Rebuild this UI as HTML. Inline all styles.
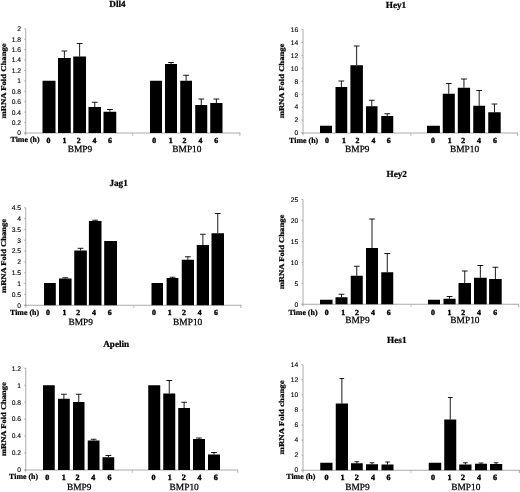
<!DOCTYPE html>
<html><head><meta charset="utf-8"><title>Figure</title>
<style>
html,body{margin:0;padding:0;background:#fff;}
body{width:520px;height:492px;overflow:hidden;font-family:"Liberation Serif",serif;}
svg{display:block;will-change:transform;filter:blur(0.35px);}
text{text-rendering:geometricPrecision;}
.t{font-family:"Liberation Serif",serif;font-weight:bold;fill:#000;stroke:#000;stroke-width:0.24px;}
.g{font-family:"Liberation Serif",serif;font-weight:normal;fill:#000;stroke:#000;stroke-width:0.25px;}
.d{stroke-width:0.4px;}
.k{font-family:"Liberation Sans",sans-serif;fill:#000;stroke:#000;stroke-width:0.12px;}
</style></head><body>
<svg width="520" height="492" viewBox="0 0 520 492">
<rect x="0" y="0" width="520" height="492" fill="#ffffff"/>
<g>
<text class="t" x="117.5" y="7.25" font-size="9.2" text-anchor="middle">Dll4</text>
<line x1="25.75" y1="28.85" x2="25.75" y2="135.4" stroke="#969696" stroke-width="0.8"/>
<line x1="24.25" y1="133" x2="239.9" y2="133" stroke="#969696" stroke-width="0.8"/>
<line x1="132.8" y1="133" x2="132.8" y2="136" stroke="#b4b4b4" stroke-width="0.8"/>
<line x1="239.9" y1="132.6" x2="239.9" y2="135.8" stroke="#969696" stroke-width="0.8"/>
<line x1="24.25" y1="133" x2="25.75" y2="133" stroke="#969696" stroke-width="0.8"/>
<text class="k" x="20.95" y="135.35" font-size="6.7" text-anchor="end">0</text>
<line x1="24.25" y1="122.58" x2="25.75" y2="122.58" stroke="#969696" stroke-width="0.8"/>
<text class="k" x="20.95" y="124.93" font-size="6.7" text-anchor="end">0.2</text>
<line x1="24.25" y1="112.17" x2="25.75" y2="112.17" stroke="#969696" stroke-width="0.8"/>
<text class="k" x="20.95" y="114.52" font-size="6.7" text-anchor="end">0.4</text>
<line x1="24.25" y1="101.75" x2="25.75" y2="101.75" stroke="#969696" stroke-width="0.8"/>
<text class="k" x="20.95" y="104.1" font-size="6.7" text-anchor="end">0.6</text>
<line x1="24.25" y1="91.34" x2="25.75" y2="91.34" stroke="#969696" stroke-width="0.8"/>
<text class="k" x="20.95" y="93.69" font-size="6.7" text-anchor="end">0.8</text>
<line x1="24.25" y1="80.92" x2="25.75" y2="80.92" stroke="#969696" stroke-width="0.8"/>
<text class="k" x="20.95" y="83.27" font-size="6.7" text-anchor="end">1</text>
<line x1="24.25" y1="70.51" x2="25.75" y2="70.51" stroke="#969696" stroke-width="0.8"/>
<text class="k" x="20.95" y="72.86" font-size="6.7" text-anchor="end">1.2</text>
<line x1="24.25" y1="60.09" x2="25.75" y2="60.09" stroke="#969696" stroke-width="0.8"/>
<text class="k" x="20.95" y="62.45" font-size="6.7" text-anchor="end">1.4</text>
<line x1="24.25" y1="49.68" x2="25.75" y2="49.68" stroke="#969696" stroke-width="0.8"/>
<text class="k" x="20.95" y="52.03" font-size="6.7" text-anchor="end">1.6</text>
<line x1="24.25" y1="39.27" x2="25.75" y2="39.27" stroke="#969696" stroke-width="0.8"/>
<text class="k" x="20.95" y="41.62" font-size="6.7" text-anchor="end">1.8</text>
<line x1="24.25" y1="28.85" x2="25.75" y2="28.85" stroke="#969696" stroke-width="0.8"/>
<text class="k" x="20.95" y="31.2" font-size="6.7" text-anchor="end">2</text>
<text class="t" font-size="7.3" text-anchor="middle" transform="translate(6.4 80.9) rotate(-90) scale(1.19 1)">mRNA Fold Change</text>
<rect x="42.5" y="80.75" width="13" height="52.25" fill="#000"/>
<rect x="58" y="58" width="12.75" height="75" fill="#000"/>
<line x1="64.38" y1="51" x2="64.38" y2="58" stroke="#000" stroke-width="0.9"/>
<line x1="61.48" y1="51" x2="67.28" y2="51" stroke="#000" stroke-width="0.9"/>
<rect x="73.25" y="56.5" width="12.75" height="76.5" fill="#000"/>
<line x1="79.62" y1="43.5" x2="79.62" y2="56.5" stroke="#000" stroke-width="0.9"/>
<line x1="76.72" y1="43.5" x2="82.53" y2="43.5" stroke="#000" stroke-width="0.9"/>
<rect x="88.5" y="107" width="12.5" height="26" fill="#000"/>
<line x1="94.75" y1="102.25" x2="94.75" y2="107" stroke="#000" stroke-width="0.9"/>
<line x1="91.85" y1="102.25" x2="97.65" y2="102.25" stroke="#000" stroke-width="0.9"/>
<rect x="103.5" y="111.75" width="12.75" height="21.25" fill="#000"/>
<line x1="109.88" y1="109.5" x2="109.88" y2="111.75" stroke="#000" stroke-width="0.9"/>
<line x1="106.97" y1="109.5" x2="112.78" y2="109.5" stroke="#000" stroke-width="0.9"/>
<rect x="150" y="80.75" width="12" height="52.25" fill="#000"/>
<rect x="165" y="64" width="12" height="69" fill="#000"/>
<line x1="171" y1="62.5" x2="171" y2="64" stroke="#000" stroke-width="0.9"/>
<line x1="168.1" y1="62.5" x2="173.9" y2="62.5" stroke="#000" stroke-width="0.9"/>
<rect x="180.25" y="80.75" width="11.75" height="52.25" fill="#000"/>
<line x1="186.12" y1="75.25" x2="186.12" y2="80.75" stroke="#000" stroke-width="0.9"/>
<line x1="183.22" y1="75.25" x2="189.03" y2="75.25" stroke="#000" stroke-width="0.9"/>
<rect x="195.25" y="105" width="12" height="28" fill="#000"/>
<line x1="201.25" y1="99" x2="201.25" y2="105" stroke="#000" stroke-width="0.9"/>
<line x1="198.35" y1="99" x2="204.15" y2="99" stroke="#000" stroke-width="0.9"/>
<rect x="210.25" y="103" width="12.25" height="30" fill="#000"/>
<line x1="216.38" y1="99" x2="216.38" y2="103" stroke="#000" stroke-width="0.9"/>
<line x1="213.47" y1="99" x2="219.28" y2="99" stroke="#000" stroke-width="0.9"/>
<text class="t" font-size="7.8" transform="translate(10.5 141.6) scale(1.015 1)">Time (h)</text>
<text class="t d" font-size="7.8" text-anchor="middle" transform="translate(48.5 143.3) scale(1.0 1)">0</text>
<text class="t d" font-size="7.8" text-anchor="middle" transform="translate(64.5 143.3) scale(1.0 1)">1</text>
<text class="t d" font-size="7.8" text-anchor="middle" transform="translate(78.75 143.3) scale(1.0 1)">2</text>
<text class="t d" font-size="7.8" text-anchor="middle" transform="translate(94.5 143.3) scale(1.0 1)">4</text>
<text class="t d" font-size="7.8" text-anchor="middle" transform="translate(110 143.3) scale(1.0 1)">6</text>
<text class="t d" font-size="7.8" text-anchor="middle" transform="translate(154.25 143.3) scale(1.0 1)">0</text>
<text class="t d" font-size="7.8" text-anchor="middle" transform="translate(170.7 143.3) scale(1.0 1)">1</text>
<text class="t d" font-size="7.8" text-anchor="middle" transform="translate(184.5 143.3) scale(1.0 1)">2</text>
<text class="t d" font-size="7.8" text-anchor="middle" transform="translate(200.5 143.3) scale(1.0 1)">4</text>
<text class="t d" font-size="7.8" text-anchor="middle" transform="translate(216.25 143.3) scale(1.0 1)">6</text>
<text class="g" x="80" y="152.1" font-size="9.4" text-anchor="middle">BMP9</text>
<text class="g" x="186.9" y="152.1" font-size="9.4" text-anchor="middle">BMP10</text>
</g>
<g>
<text class="t" x="396" y="7.7" font-size="9.2" text-anchor="middle">Hey1</text>
<line x1="303" y1="29.5" x2="303" y2="135.4" stroke="#969696" stroke-width="0.8"/>
<line x1="301.5" y1="133" x2="517.6" y2="133" stroke="#969696" stroke-width="0.8"/>
<line x1="410.8" y1="133" x2="410.8" y2="136" stroke="#b4b4b4" stroke-width="0.8"/>
<line x1="517.6" y1="132.6" x2="517.6" y2="135.8" stroke="#969696" stroke-width="0.8"/>
<line x1="301.5" y1="133" x2="303" y2="133" stroke="#969696" stroke-width="0.8"/>
<text class="k" x="298.2" y="135.35" font-size="6.7" text-anchor="end">0</text>
<line x1="301.5" y1="120.06" x2="303" y2="120.06" stroke="#969696" stroke-width="0.8"/>
<text class="k" x="298.2" y="122.41" font-size="6.7" text-anchor="end">2</text>
<line x1="301.5" y1="107.12" x2="303" y2="107.12" stroke="#969696" stroke-width="0.8"/>
<text class="k" x="298.2" y="109.47" font-size="6.7" text-anchor="end">4</text>
<line x1="301.5" y1="94.19" x2="303" y2="94.19" stroke="#969696" stroke-width="0.8"/>
<text class="k" x="298.2" y="96.54" font-size="6.7" text-anchor="end">6</text>
<line x1="301.5" y1="81.25" x2="303" y2="81.25" stroke="#969696" stroke-width="0.8"/>
<text class="k" x="298.2" y="83.6" font-size="6.7" text-anchor="end">8</text>
<line x1="301.5" y1="68.31" x2="303" y2="68.31" stroke="#969696" stroke-width="0.8"/>
<text class="k" x="298.2" y="70.66" font-size="6.7" text-anchor="end">10</text>
<line x1="301.5" y1="55.38" x2="303" y2="55.38" stroke="#969696" stroke-width="0.8"/>
<text class="k" x="298.2" y="57.73" font-size="6.7" text-anchor="end">12</text>
<line x1="301.5" y1="42.44" x2="303" y2="42.44" stroke="#969696" stroke-width="0.8"/>
<text class="k" x="298.2" y="44.79" font-size="6.7" text-anchor="end">14</text>
<line x1="301.5" y1="29.5" x2="303" y2="29.5" stroke="#969696" stroke-width="0.8"/>
<text class="k" x="298.2" y="31.85" font-size="6.7" text-anchor="end">16</text>
<text class="t" font-size="7.3" text-anchor="middle" transform="translate(284.4 80.95) rotate(-90) scale(1.18 1)">mRNA Fold Change</text>
<rect x="320" y="125.75" width="12" height="7.25" fill="#000"/>
<rect x="335.5" y="87" width="11.75" height="46" fill="#000"/>
<line x1="341.38" y1="81" x2="341.38" y2="87" stroke="#000" stroke-width="0.9"/>
<line x1="338.48" y1="81" x2="344.27" y2="81" stroke="#000" stroke-width="0.9"/>
<rect x="350.4" y="65.25" width="12.5" height="67.75" fill="#000"/>
<line x1="356.65" y1="46" x2="356.65" y2="65.25" stroke="#000" stroke-width="0.9"/>
<line x1="353.75" y1="46" x2="359.55" y2="46" stroke="#000" stroke-width="0.9"/>
<rect x="366" y="106.25" width="11.5" height="26.75" fill="#000"/>
<line x1="371.75" y1="100.25" x2="371.75" y2="106.25" stroke="#000" stroke-width="0.9"/>
<line x1="368.85" y1="100.25" x2="374.65" y2="100.25" stroke="#000" stroke-width="0.9"/>
<rect x="381.25" y="116" width="12" height="17" fill="#000"/>
<line x1="387.25" y1="113.75" x2="387.25" y2="116" stroke="#000" stroke-width="0.9"/>
<line x1="384.35" y1="113.75" x2="390.15" y2="113.75" stroke="#000" stroke-width="0.9"/>
<rect x="427" y="125.75" width="12.9" height="7.25" fill="#000"/>
<rect x="442.75" y="93.75" width="12.05" height="39.25" fill="#000"/>
<line x1="448.77" y1="83.5" x2="448.77" y2="93.75" stroke="#000" stroke-width="0.9"/>
<line x1="445.88" y1="83.5" x2="451.67" y2="83.5" stroke="#000" stroke-width="0.9"/>
<rect x="457.8" y="87.75" width="12.3" height="45.25" fill="#000"/>
<line x1="463.95" y1="79" x2="463.95" y2="87.75" stroke="#000" stroke-width="0.9"/>
<line x1="461.05" y1="79" x2="466.85" y2="79" stroke="#000" stroke-width="0.9"/>
<rect x="473.25" y="105.75" width="11.85" height="27.25" fill="#000"/>
<line x1="479.18" y1="90.5" x2="479.18" y2="105.75" stroke="#000" stroke-width="0.9"/>
<line x1="476.28" y1="90.5" x2="482.07" y2="90.5" stroke="#000" stroke-width="0.9"/>
<rect x="488.25" y="112.25" width="12.45" height="20.75" fill="#000"/>
<line x1="494.48" y1="104" x2="494.48" y2="112.25" stroke="#000" stroke-width="0.9"/>
<line x1="491.58" y1="104" x2="497.38" y2="104" stroke="#000" stroke-width="0.9"/>
<text class="t" font-size="7.8" transform="translate(289.1 142.9) scale(1.015 1)">Time (h)</text>
<text class="t d" font-size="7.8" text-anchor="middle" transform="translate(327 143.1) scale(1.0 1)">0</text>
<text class="t d" font-size="7.8" text-anchor="middle" transform="translate(344 143.1) scale(1.0 1)">1</text>
<text class="t d" font-size="7.8" text-anchor="middle" transform="translate(357.4 143.1) scale(1.0 1)">2</text>
<text class="t d" font-size="7.8" text-anchor="middle" transform="translate(373.5 143.1) scale(1.0 1)">4</text>
<text class="t d" font-size="7.8" text-anchor="middle" transform="translate(388.7 143.1) scale(1.0 1)">6</text>
<text class="t d" font-size="7.8" text-anchor="middle" transform="translate(433 143.1) scale(1.0 1)">0</text>
<text class="t d" font-size="7.8" text-anchor="middle" transform="translate(449.6 143.1) scale(1.0 1)">1</text>
<text class="t d" font-size="7.8" text-anchor="middle" transform="translate(463.2 143.1) scale(1.0 1)">2</text>
<text class="t d" font-size="7.8" text-anchor="middle" transform="translate(478.9 143.1) scale(1.0 1)">4</text>
<text class="t d" font-size="7.8" text-anchor="middle" transform="translate(494.9 143.1) scale(1.0 1)">6</text>
<text class="g" x="357.3" y="152.05" font-size="9.4" text-anchor="middle">BMP9</text>
<text class="g" x="464.5" y="152.05" font-size="9.4" text-anchor="middle">BMP10</text>
</g>
<g>
<text class="t" x="118.6" y="186.2" font-size="9.2" text-anchor="middle">Jag1</text>
<line x1="25.75" y1="207.75" x2="25.75" y2="307.65" stroke="#969696" stroke-width="0.8"/>
<line x1="24.25" y1="305.25" x2="241" y2="305.25" stroke="#969696" stroke-width="0.8"/>
<line x1="133.8" y1="305.25" x2="133.8" y2="308.25" stroke="#b4b4b4" stroke-width="0.8"/>
<line x1="241" y1="304.85" x2="241" y2="308.05" stroke="#969696" stroke-width="0.8"/>
<line x1="24.25" y1="305.25" x2="25.75" y2="305.25" stroke="#969696" stroke-width="0.8"/>
<text class="k" x="20.95" y="307.6" font-size="6.7" text-anchor="end">0</text>
<line x1="24.25" y1="294.42" x2="25.75" y2="294.42" stroke="#969696" stroke-width="0.8"/>
<text class="k" x="20.95" y="296.77" font-size="6.7" text-anchor="end">0.5</text>
<line x1="24.25" y1="283.58" x2="25.75" y2="283.58" stroke="#969696" stroke-width="0.8"/>
<text class="k" x="20.95" y="285.93" font-size="6.7" text-anchor="end">1</text>
<line x1="24.25" y1="272.75" x2="25.75" y2="272.75" stroke="#969696" stroke-width="0.8"/>
<text class="k" x="20.95" y="275.1" font-size="6.7" text-anchor="end">1.5</text>
<line x1="24.25" y1="261.92" x2="25.75" y2="261.92" stroke="#969696" stroke-width="0.8"/>
<text class="k" x="20.95" y="264.27" font-size="6.7" text-anchor="end">2</text>
<line x1="24.25" y1="251.08" x2="25.75" y2="251.08" stroke="#969696" stroke-width="0.8"/>
<text class="k" x="20.95" y="253.43" font-size="6.7" text-anchor="end">2.5</text>
<line x1="24.25" y1="240.25" x2="25.75" y2="240.25" stroke="#969696" stroke-width="0.8"/>
<text class="k" x="20.95" y="242.6" font-size="6.7" text-anchor="end">3</text>
<line x1="24.25" y1="229.42" x2="25.75" y2="229.42" stroke="#969696" stroke-width="0.8"/>
<text class="k" x="20.95" y="231.77" font-size="6.7" text-anchor="end">3.5</text>
<line x1="24.25" y1="218.58" x2="25.75" y2="218.58" stroke="#969696" stroke-width="0.8"/>
<text class="k" x="20.95" y="220.93" font-size="6.7" text-anchor="end">4</text>
<line x1="24.25" y1="207.75" x2="25.75" y2="207.75" stroke="#969696" stroke-width="0.8"/>
<text class="k" x="20.95" y="210.1" font-size="6.7" text-anchor="end">4.5</text>
<text class="t" font-size="7.3" text-anchor="middle" transform="translate(6.4 255.95) rotate(-90) scale(1.17 1)">mRNA Fold Change</text>
<rect x="44.05" y="283" width="11.75" height="22.25" fill="#000"/>
<rect x="59" y="278.5" width="12.55" height="26.75" fill="#000"/>
<line x1="65.28" y1="277.75" x2="65.28" y2="278.5" stroke="#000" stroke-width="0.9"/>
<line x1="62.38" y1="277.75" x2="68.18" y2="277.75" stroke="#000" stroke-width="0.9"/>
<rect x="74.25" y="250.5" width="12.6" height="54.75" fill="#000"/>
<line x1="80.55" y1="248.3" x2="80.55" y2="250.5" stroke="#000" stroke-width="0.9"/>
<line x1="77.65" y1="248.3" x2="83.45" y2="248.3" stroke="#000" stroke-width="0.9"/>
<rect x="88.9" y="221" width="12.6" height="84.25" fill="#000"/>
<line x1="95.2" y1="220.2" x2="95.2" y2="221" stroke="#000" stroke-width="0.9"/>
<line x1="92.3" y1="220.2" x2="98.1" y2="220.2" stroke="#000" stroke-width="0.9"/>
<rect x="104.2" y="241" width="12.8" height="64.25" fill="#000"/>
<rect x="151.5" y="283" width="11.5" height="22.25" fill="#000"/>
<rect x="166.6" y="278" width="11.8" height="27.25" fill="#000"/>
<line x1="172.5" y1="277.25" x2="172.5" y2="278" stroke="#000" stroke-width="0.9"/>
<line x1="169.6" y1="277.25" x2="175.4" y2="277.25" stroke="#000" stroke-width="0.9"/>
<rect x="181.75" y="259.75" width="12.25" height="45.5" fill="#000"/>
<line x1="187.88" y1="256.75" x2="187.88" y2="259.75" stroke="#000" stroke-width="0.9"/>
<line x1="184.97" y1="256.75" x2="190.78" y2="256.75" stroke="#000" stroke-width="0.9"/>
<rect x="196.75" y="245" width="12.25" height="60.25" fill="#000"/>
<line x1="202.88" y1="234.25" x2="202.88" y2="245" stroke="#000" stroke-width="0.9"/>
<line x1="199.97" y1="234.25" x2="205.78" y2="234.25" stroke="#000" stroke-width="0.9"/>
<rect x="211.5" y="233.25" width="12.5" height="72" fill="#000"/>
<line x1="217.75" y1="213.5" x2="217.75" y2="233.25" stroke="#000" stroke-width="0.9"/>
<line x1="214.85" y1="213.5" x2="220.65" y2="213.5" stroke="#000" stroke-width="0.9"/>
<text class="t" font-size="7.8" transform="translate(10 315) scale(1.015 1)">Time (h)</text>
<text class="t d" font-size="7.8" text-anchor="middle" transform="translate(47.9 315.25) scale(1.0 1)">0</text>
<text class="t d" font-size="7.8" text-anchor="middle" transform="translate(64.4 315.25) scale(1.0 1)">1</text>
<text class="t d" font-size="7.8" text-anchor="middle" transform="translate(78.1 315.25) scale(1.0 1)">2</text>
<text class="t d" font-size="7.8" text-anchor="middle" transform="translate(93.85 315.25) scale(1.0 1)">4</text>
<text class="t d" font-size="7.8" text-anchor="middle" transform="translate(109.75 315.25) scale(1.0 1)">6</text>
<text class="t d" font-size="7.8" text-anchor="middle" transform="translate(153.85 315.25) scale(1.0 1)">0</text>
<text class="t d" font-size="7.8" text-anchor="middle" transform="translate(169.8 315.25) scale(1.0 1)">1</text>
<text class="t d" font-size="7.8" text-anchor="middle" transform="translate(184 315.25) scale(1.0 1)">2</text>
<text class="t d" font-size="7.8" text-anchor="middle" transform="translate(199.6 315.25) scale(1.0 1)">4</text>
<text class="t d" font-size="7.8" text-anchor="middle" transform="translate(216 315.25) scale(1.0 1)">6</text>
<text class="g" x="80.7" y="324.5" font-size="9.4" text-anchor="middle">BMP9</text>
<text class="g" x="187.7" y="324.5" font-size="9.4" text-anchor="middle">BMP10</text>
</g>
<g>
<text class="t" x="396.7" y="177.15" font-size="9.2" text-anchor="middle">Hey2</text>
<line x1="303" y1="199.5" x2="303" y2="306.65" stroke="#969696" stroke-width="0.8"/>
<line x1="301.5" y1="304.25" x2="518.7" y2="304.25" stroke="#969696" stroke-width="0.8"/>
<line x1="411.05" y1="304.25" x2="411.05" y2="307.25" stroke="#b4b4b4" stroke-width="0.8"/>
<line x1="518.7" y1="303.85" x2="518.7" y2="307.05" stroke="#969696" stroke-width="0.8"/>
<line x1="301.5" y1="304.25" x2="303" y2="304.25" stroke="#969696" stroke-width="0.8"/>
<text class="k" x="298.2" y="306.6" font-size="6.7" text-anchor="end">0</text>
<line x1="301.5" y1="283.3" x2="303" y2="283.3" stroke="#969696" stroke-width="0.8"/>
<text class="k" x="298.2" y="285.65" font-size="6.7" text-anchor="end">5</text>
<line x1="301.5" y1="262.35" x2="303" y2="262.35" stroke="#969696" stroke-width="0.8"/>
<text class="k" x="298.2" y="264.7" font-size="6.7" text-anchor="end">10</text>
<line x1="301.5" y1="241.4" x2="303" y2="241.4" stroke="#969696" stroke-width="0.8"/>
<text class="k" x="298.2" y="243.75" font-size="6.7" text-anchor="end">15</text>
<line x1="301.5" y1="220.45" x2="303" y2="220.45" stroke="#969696" stroke-width="0.8"/>
<text class="k" x="298.2" y="222.8" font-size="6.7" text-anchor="end">20</text>
<line x1="301.5" y1="199.5" x2="303" y2="199.5" stroke="#969696" stroke-width="0.8"/>
<text class="k" x="298.2" y="201.85" font-size="6.7" text-anchor="end">25</text>
<text class="t" font-size="7.3" text-anchor="middle" transform="translate(284.1 252) rotate(-90) scale(1.18 1)">mRNA Fold Change</text>
<rect x="320" y="299.75" width="12.5" height="4.5" fill="#000"/>
<rect x="335.5" y="297.25" width="12" height="7" fill="#000"/>
<line x1="341.5" y1="294.25" x2="341.5" y2="297.25" stroke="#000" stroke-width="0.9"/>
<line x1="338.6" y1="294.25" x2="344.4" y2="294.25" stroke="#000" stroke-width="0.9"/>
<rect x="350.75" y="275.75" width="12" height="28.5" fill="#000"/>
<line x1="356.75" y1="266.25" x2="356.75" y2="275.75" stroke="#000" stroke-width="0.9"/>
<line x1="353.85" y1="266.25" x2="359.65" y2="266.25" stroke="#000" stroke-width="0.9"/>
<rect x="366" y="248" width="12" height="56.25" fill="#000"/>
<line x1="372" y1="219" x2="372" y2="248" stroke="#000" stroke-width="0.9"/>
<line x1="369.1" y1="219" x2="374.9" y2="219" stroke="#000" stroke-width="0.9"/>
<rect x="381.25" y="272.25" width="12" height="32" fill="#000"/>
<line x1="387.25" y1="253.5" x2="387.25" y2="272.25" stroke="#000" stroke-width="0.9"/>
<line x1="384.35" y1="253.5" x2="390.15" y2="253.5" stroke="#000" stroke-width="0.9"/>
<rect x="428" y="299.75" width="12" height="4.5" fill="#000"/>
<rect x="443.5" y="298.75" width="12.1" height="5.5" fill="#000"/>
<line x1="449.55" y1="296.5" x2="449.55" y2="298.75" stroke="#000" stroke-width="0.9"/>
<line x1="446.65" y1="296.5" x2="452.45" y2="296.5" stroke="#000" stroke-width="0.9"/>
<rect x="458.5" y="283" width="12.5" height="21.25" fill="#000"/>
<line x1="464.75" y1="271" x2="464.75" y2="283" stroke="#000" stroke-width="0.9"/>
<line x1="461.85" y1="271" x2="467.65" y2="271" stroke="#000" stroke-width="0.9"/>
<rect x="474" y="277.75" width="12.7" height="26.5" fill="#000"/>
<line x1="480.35" y1="265.5" x2="480.35" y2="277.75" stroke="#000" stroke-width="0.9"/>
<line x1="477.45" y1="265.5" x2="483.25" y2="265.5" stroke="#000" stroke-width="0.9"/>
<rect x="489.1" y="279" width="12.6" height="25.25" fill="#000"/>
<line x1="495.4" y1="267.25" x2="495.4" y2="279" stroke="#000" stroke-width="0.9"/>
<line x1="492.5" y1="267.25" x2="498.3" y2="267.25" stroke="#000" stroke-width="0.9"/>
<text class="t" font-size="7.8" transform="translate(288.45 315) scale(1.015 1)">Time (h)</text>
<text class="t d" font-size="7.8" text-anchor="middle" transform="translate(326.75 315.25) scale(1.0 1)">0</text>
<text class="t d" font-size="7.8" text-anchor="middle" transform="translate(343.1 315.25) scale(1.0 1)">1</text>
<text class="t d" font-size="7.8" text-anchor="middle" transform="translate(357 315.25) scale(1.0 1)">2</text>
<text class="t d" font-size="7.8" text-anchor="middle" transform="translate(373 315.25) scale(1.0 1)">4</text>
<text class="t d" font-size="7.8" text-anchor="middle" transform="translate(388.6 315.25) scale(1.0 1)">6</text>
<text class="t d" font-size="7.8" text-anchor="middle" transform="translate(432.9 315.25) scale(1.0 1)">0</text>
<text class="t d" font-size="7.8" text-anchor="middle" transform="translate(449.4 315.25) scale(1.0 1)">1</text>
<text class="t d" font-size="7.8" text-anchor="middle" transform="translate(463.1 315.25) scale(1.0 1)">2</text>
<text class="t d" font-size="7.8" text-anchor="middle" transform="translate(478.85 315.25) scale(1.0 1)">4</text>
<text class="t d" font-size="7.8" text-anchor="middle" transform="translate(495.25 315.25) scale(1.0 1)">6</text>
<text class="g" x="357.5" y="323.4" font-size="9.4" text-anchor="middle">BMP9</text>
<text class="g" x="464.95" y="323.4" font-size="9.4" text-anchor="middle">BMP10</text>
</g>
<g>
<text class="t" x="116.2" y="346.5" font-size="9.2" text-anchor="middle">Apelin</text>
<line x1="25.75" y1="368.25" x2="25.75" y2="472.4" stroke="#969696" stroke-width="0.8"/>
<line x1="24.25" y1="470" x2="237.75" y2="470" stroke="#969696" stroke-width="0.8"/>
<line x1="132.3" y1="470" x2="132.3" y2="473" stroke="#b4b4b4" stroke-width="0.8"/>
<line x1="237.75" y1="469.6" x2="237.75" y2="472.8" stroke="#969696" stroke-width="0.8"/>
<line x1="24.25" y1="470" x2="25.75" y2="470" stroke="#969696" stroke-width="0.8"/>
<text class="k" x="20.95" y="472.35" font-size="6.7" text-anchor="end">0</text>
<line x1="24.25" y1="453.04" x2="25.75" y2="453.04" stroke="#969696" stroke-width="0.8"/>
<text class="k" x="20.95" y="455.39" font-size="6.7" text-anchor="end">0.2</text>
<line x1="24.25" y1="436.08" x2="25.75" y2="436.08" stroke="#969696" stroke-width="0.8"/>
<text class="k" x="20.95" y="438.43" font-size="6.7" text-anchor="end">0.4</text>
<line x1="24.25" y1="419.12" x2="25.75" y2="419.12" stroke="#969696" stroke-width="0.8"/>
<text class="k" x="20.95" y="421.48" font-size="6.7" text-anchor="end">0.6</text>
<line x1="24.25" y1="402.17" x2="25.75" y2="402.17" stroke="#969696" stroke-width="0.8"/>
<text class="k" x="20.95" y="404.52" font-size="6.7" text-anchor="end">0.8</text>
<line x1="24.25" y1="385.21" x2="25.75" y2="385.21" stroke="#969696" stroke-width="0.8"/>
<text class="k" x="20.95" y="387.56" font-size="6.7" text-anchor="end">1</text>
<line x1="24.25" y1="368.25" x2="25.75" y2="368.25" stroke="#969696" stroke-width="0.8"/>
<text class="k" x="20.95" y="370.6" font-size="6.7" text-anchor="end">1.2</text>
<text class="t" font-size="7.3" text-anchor="middle" transform="translate(6.4 419.1) rotate(-90) scale(1.17 1)">mRNA Fold Change</text>
<rect x="43" y="385.25" width="11.75" height="84.75" fill="#000"/>
<rect x="58" y="398.75" width="11.75" height="71.25" fill="#000"/>
<line x1="63.88" y1="394.25" x2="63.88" y2="398.75" stroke="#000" stroke-width="0.9"/>
<line x1="60.98" y1="394.25" x2="66.78" y2="394.25" stroke="#000" stroke-width="0.9"/>
<rect x="73" y="402" width="11.5" height="68" fill="#000"/>
<line x1="78.75" y1="394.25" x2="78.75" y2="402" stroke="#000" stroke-width="0.9"/>
<line x1="75.85" y1="394.25" x2="81.65" y2="394.25" stroke="#000" stroke-width="0.9"/>
<rect x="87.75" y="440.5" width="11.75" height="29.5" fill="#000"/>
<line x1="93.62" y1="439.25" x2="93.62" y2="440.5" stroke="#000" stroke-width="0.9"/>
<line x1="90.72" y1="439.25" x2="96.53" y2="439.25" stroke="#000" stroke-width="0.9"/>
<rect x="102.5" y="457.25" width="11.75" height="12.75" fill="#000"/>
<line x1="108.38" y1="455.5" x2="108.38" y2="457.25" stroke="#000" stroke-width="0.9"/>
<line x1="105.47" y1="455.5" x2="111.28" y2="455.5" stroke="#000" stroke-width="0.9"/>
<rect x="148.25" y="385.25" width="12" height="84.75" fill="#000"/>
<rect x="163.25" y="393.5" width="12" height="76.5" fill="#000"/>
<line x1="169.25" y1="380.5" x2="169.25" y2="393.5" stroke="#000" stroke-width="0.9"/>
<line x1="166.35" y1="380.5" x2="172.15" y2="380.5" stroke="#000" stroke-width="0.9"/>
<rect x="178.25" y="408" width="11.75" height="62" fill="#000"/>
<line x1="184.12" y1="402.25" x2="184.12" y2="408" stroke="#000" stroke-width="0.9"/>
<line x1="181.22" y1="402.25" x2="187.03" y2="402.25" stroke="#000" stroke-width="0.9"/>
<rect x="193" y="439" width="12" height="31" fill="#000"/>
<line x1="199" y1="438" x2="199" y2="439" stroke="#000" stroke-width="0.9"/>
<line x1="196.1" y1="438" x2="201.9" y2="438" stroke="#000" stroke-width="0.9"/>
<rect x="208" y="454.5" width="12" height="15.5" fill="#000"/>
<line x1="214" y1="452.5" x2="214" y2="454.5" stroke="#000" stroke-width="0.9"/>
<line x1="211.1" y1="452.5" x2="216.9" y2="452.5" stroke="#000" stroke-width="0.9"/>
<text class="t" font-size="7.8" transform="translate(9.05 479.3) scale(1.015 1)">Time (h)</text>
<text class="t d" font-size="8.1" text-anchor="middle" transform="translate(47.3 479.9) scale(1.0 1)">0</text>
<text class="t d" font-size="8.1" text-anchor="middle" transform="translate(63.65 479.9) scale(1.0 1)">1</text>
<text class="t d" font-size="8.1" text-anchor="middle" transform="translate(77.5 479.9) scale(1.0 1)">2</text>
<text class="t d" font-size="8.1" text-anchor="middle" transform="translate(93.2 479.9) scale(1.0 1)">4</text>
<text class="t d" font-size="8.1" text-anchor="middle" transform="translate(109.6 479.9) scale(1.0 1)">6</text>
<text class="t d" font-size="8.1" text-anchor="middle" transform="translate(153.4 479.9) scale(1.0 1)">0</text>
<text class="t d" font-size="8.1" text-anchor="middle" transform="translate(169.7 479.9) scale(1.0 1)">1</text>
<text class="t d" font-size="8.1" text-anchor="middle" transform="translate(183.75 479.9) scale(1.0 1)">2</text>
<text class="t d" font-size="8.1" text-anchor="middle" transform="translate(199.4 479.9) scale(1.0 1)">4</text>
<text class="t d" font-size="8.1" text-anchor="middle" transform="translate(215.85 479.9) scale(1.0 1)">6</text>
<text class="g" x="79.2" y="489.5" font-size="9.4" text-anchor="middle">BMP9</text>
<text class="g" x="184.2" y="489.5" font-size="9.4" text-anchor="middle">BMP10</text>
</g>
<g>
<text class="t" x="396.8" y="343" font-size="9.2" text-anchor="middle">Hes1</text>
<line x1="303" y1="364.75" x2="303" y2="472.65" stroke="#969696" stroke-width="0.8"/>
<line x1="301.5" y1="470.25" x2="519.4" y2="470.25" stroke="#969696" stroke-width="0.8"/>
<line x1="411" y1="470.25" x2="411" y2="473.25" stroke="#b4b4b4" stroke-width="0.8"/>
<line x1="519.4" y1="469.85" x2="519.4" y2="473.05" stroke="#969696" stroke-width="0.8"/>
<line x1="301.5" y1="470.25" x2="303" y2="470.25" stroke="#969696" stroke-width="0.8"/>
<text class="k" x="298.2" y="472.15" font-size="6.7" text-anchor="end">0</text>
<line x1="301.5" y1="455.18" x2="303" y2="455.18" stroke="#969696" stroke-width="0.8"/>
<text class="k" x="298.2" y="457.08" font-size="6.7" text-anchor="end">2</text>
<line x1="301.5" y1="440.11" x2="303" y2="440.11" stroke="#969696" stroke-width="0.8"/>
<text class="k" x="298.2" y="442.01" font-size="6.7" text-anchor="end">4</text>
<line x1="301.5" y1="425.04" x2="303" y2="425.04" stroke="#969696" stroke-width="0.8"/>
<text class="k" x="298.2" y="426.94" font-size="6.7" text-anchor="end">6</text>
<line x1="301.5" y1="409.96" x2="303" y2="409.96" stroke="#969696" stroke-width="0.8"/>
<text class="k" x="298.2" y="411.86" font-size="6.7" text-anchor="end">8</text>
<line x1="301.5" y1="394.89" x2="303" y2="394.89" stroke="#969696" stroke-width="0.8"/>
<text class="k" x="298.2" y="396.79" font-size="6.7" text-anchor="end">10</text>
<line x1="301.5" y1="379.82" x2="303" y2="379.82" stroke="#969696" stroke-width="0.8"/>
<text class="k" x="298.2" y="381.72" font-size="6.7" text-anchor="end">12</text>
<line x1="301.5" y1="364.75" x2="303" y2="364.75" stroke="#969696" stroke-width="0.8"/>
<text class="k" x="298.2" y="366.65" font-size="6.7" text-anchor="end">14</text>
<text class="t" font-size="7.3" text-anchor="middle" transform="translate(284 417.4) rotate(-90) scale(1.21 1)">mRNA Fold change</text>
<rect x="320.25" y="462.75" width="12.25" height="7.5" fill="#000"/>
<rect x="335.75" y="403.5" width="12.25" height="66.75" fill="#000"/>
<line x1="341.88" y1="378.5" x2="341.88" y2="403.5" stroke="#000" stroke-width="0.9"/>
<line x1="339.57" y1="378.5" x2="344.18" y2="378.5" stroke="#000" stroke-width="0.9"/>
<rect x="351" y="463.25" width="11.75" height="7" fill="#000"/>
<line x1="356.88" y1="461.75" x2="356.88" y2="463.25" stroke="#000" stroke-width="0.9"/>
<line x1="354.57" y1="461.75" x2="359.18" y2="461.75" stroke="#000" stroke-width="0.9"/>
<rect x="366" y="464.25" width="12" height="6" fill="#000"/>
<line x1="372" y1="462.75" x2="372" y2="464.25" stroke="#000" stroke-width="0.9"/>
<line x1="369.7" y1="462.75" x2="374.3" y2="462.75" stroke="#000" stroke-width="0.9"/>
<rect x="381.5" y="464.5" width="12" height="5.75" fill="#000"/>
<line x1="387.5" y1="462" x2="387.5" y2="464.5" stroke="#000" stroke-width="0.9"/>
<line x1="385.2" y1="462" x2="389.8" y2="462" stroke="#000" stroke-width="0.9"/>
<rect x="428.75" y="462.75" width="12.5" height="7.5" fill="#000"/>
<rect x="444.25" y="419.5" width="12" height="50.75" fill="#000"/>
<line x1="450.25" y1="397.5" x2="450.25" y2="419.5" stroke="#000" stroke-width="0.9"/>
<line x1="447.95" y1="397.5" x2="452.55" y2="397.5" stroke="#000" stroke-width="0.9"/>
<rect x="459.25" y="464.5" width="12.25" height="5.75" fill="#000"/>
<line x1="465.38" y1="462.75" x2="465.38" y2="464.5" stroke="#000" stroke-width="0.9"/>
<line x1="463.07" y1="462.75" x2="467.68" y2="462.75" stroke="#000" stroke-width="0.9"/>
<rect x="475" y="463.75" width="12" height="6.5" fill="#000"/>
<line x1="481" y1="463" x2="481" y2="463.75" stroke="#000" stroke-width="0.9"/>
<line x1="478.7" y1="463" x2="483.3" y2="463" stroke="#000" stroke-width="0.9"/>
<rect x="490" y="464" width="12.25" height="6.25" fill="#000"/>
<line x1="496.12" y1="462.75" x2="496.12" y2="464" stroke="#000" stroke-width="0.9"/>
<line x1="493.82" y1="462.75" x2="498.43" y2="462.75" stroke="#000" stroke-width="0.9"/>
<text class="t" font-size="7.8" transform="translate(286.25 479.45) scale(1.015 1)">Time (h)</text>
<text class="t d" font-size="8.1" text-anchor="middle" transform="translate(326.4 479.9) scale(1.0 1)">0</text>
<text class="t d" font-size="8.1" text-anchor="middle" transform="translate(342.5 479.9) scale(1.0 1)">1</text>
<text class="t d" font-size="8.1" text-anchor="middle" transform="translate(356.8 479.9) scale(1.0 1)">2</text>
<text class="t d" font-size="8.1" text-anchor="middle" transform="translate(373 479.9) scale(1.0 1)">4</text>
<text class="t d" font-size="8.1" text-anchor="middle" transform="translate(388.6 479.9) scale(1.0 1)">6</text>
<text class="t d" font-size="8.1" text-anchor="middle" transform="translate(433.1 479.9) scale(1.0 1)">0</text>
<text class="t d" font-size="8.1" text-anchor="middle" transform="translate(449.4 479.9) scale(1.0 1)">1</text>
<text class="t d" font-size="8.1" text-anchor="middle" transform="translate(463.1 479.9) scale(1.0 1)">2</text>
<text class="t d" font-size="8.1" text-anchor="middle" transform="translate(479 479.9) scale(1.0 1)">4</text>
<text class="t d" font-size="8.1" text-anchor="middle" transform="translate(495 479.9) scale(1.0 1)">6</text>
<text class="g" x="357.5" y="489.5" font-size="9.4" text-anchor="middle">BMP9</text>
<text class="g" x="465.8" y="489.5" font-size="9.4" text-anchor="middle">BMP10</text>
</g>
</svg></body></html>
